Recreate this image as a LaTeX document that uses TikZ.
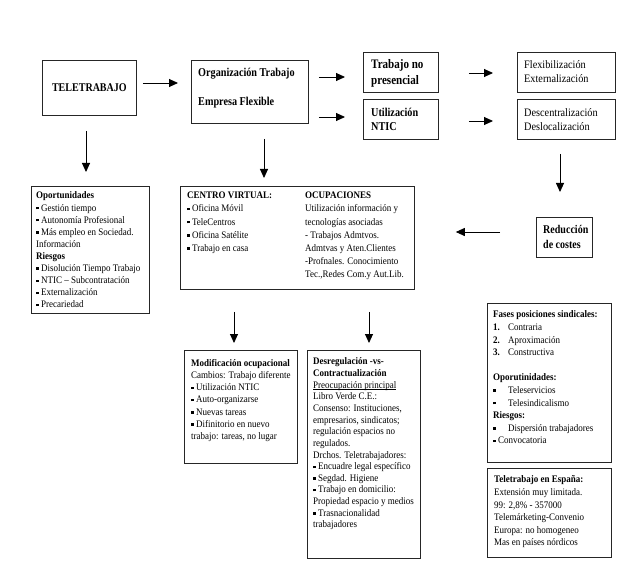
\documentclass[tikz,border=0pt]{standalone}
\usepackage{fontspec}
\setmainfont{Liberation Serif}
\newfontfamily\nf{Liberation Serif}[FakeStretch=0.9]
\newfontfamily\cf{Liberation Serif}[FakeStretch=0.85]
\usetikzlibrary{arrows.meta,calc}
\newcommand{\bul}{\raisebox{1.7pt}{\rule{2.4pt}{2.4pt}}\hspace{2.5pt}}
\newcommand{\num}[1]{\makebox[15pt][l]{\textbf{#1}}}
\newcommand{\ind}{\makebox[15pt][l]{\raisebox{1.7pt}{\rule{2.4pt}{2.4pt}}}}
\newlength\ulw
\newcommand{\ulx}[1]{\settowidth{\ulw}{#1}\rlap{\rule[-1.3pt]{\ulw}{0.5pt}}#1}
\begin{document}
\begin{tikzpicture}[x=1pt,y=-1pt,
  box/.style={draw=black!85, line width=0.8pt, inner sep=0pt, anchor=north west},
  txt/.style={anchor=north west, inner sep=0pt, align=left},
  arr/.style={line width=0.9pt, -{Triangle[length=9pt,width=8pt]}},
  bigb/.style 2 args={font=\cf\bfseries\fontsize{#1}{#2}\selectfont},
  bigr/.style 2 args={font=\nf\fontsize{#1}{#2}\selectfont},
  small/.style={font=\nf\fontsize{10}{#1}\selectfont}]
\useasboundingbox[fill=white] (0,0) rectangle (636,577);

% boxes
\node[box, minimum width=94, minimum height=55, bigb={11.8}{14}] (tele) at (42,60) {TELETRABAJO};
\node[box, minimum width=117, minimum height=63] (org) at (191,60) {};
\node[box, minimum width=75, minimum height=40] (tnp) at (363,52) {};
\node[box, minimum width=75, minimum height=40] (ntic) at (363,99) {};
\node[box, minimum width=98, minimum height=40] (flex) at (517,52) {};
\node[box, minimum width=98, minimum height=40] (desc) at (517,99) {};
\node[box, minimum width=56, minimum height=40] (red) at (536,217) {};
\node[box, minimum width=118, minimum height=127] (opo) at (31,186) {};
\node[box, minimum width=234, minimum height=103] (cv) at (180,186) {};
\node[box, minimum width=113, minimum height=113] (mod) at (184,350) {};
\node[box, minimum width=113, minimum height=208] (des) at (307,350) {};
\node[box, minimum width=124, minimum height=159] (fases) at (487,303) {};
\node[box, minimum width=124, minimum height=89] (esp) at (487,468) {};

% texts
\node[txt, bigb={12}{29}] (orgt) at (198,67.6) {Organización Trabajo\\Empresa Flexible};
\node[txt, bigb={13}{16}] (tnpt) at (371,59) {Trabajo no\\presencial};
\node[txt, bigb={12}{14}] (ntict) at (371,107.5) {Utilización\\NTIC};
\node[txt, bigr={11.4}{14}] (flext) at (524,60) {Flexibilización\\Externalización};
\node[txt, bigr={11.4}{14}] (desct) at (524,108) {Descentralización\\Deslocalización};
\node[txt, bigb={11.8}{15}] (redt) at (543,224.9) {Reducción\\de costes};

\node[txt, small=12.1] (opot) at (36,191.8) {\textbf{Oportunidades}\\
\bul Gestión tiempo\\
\bul Autonomía Profesional\\
\bul Más empleo en Sociedad.\\
Información\\
\textbf{Riesgos}\\
\bul Disolución Tiempo Trabajo\\
\bul NTIC – Subcontratación\\
\bul Externalización\\
\bul Precariedad};

\node[txt, small=13.2] (cvl) at (187,191.8) {\textbf{CENTRO VIRTUAL:}\\
\bul Oficina Móvil\\
\bul TeleCentros\\
\bul Oficina Satélite\\
\bul Trabajo en casa};

\node[txt, small=13.2] (cvr) at (305,191.8) {\textbf{OCUPACIONES}\\
Utilización información y\\
tecnologías asociadas\\
- Trabajos Admtvos.\\
Admtvas y Aten.Clientes\\
-Profnales. Conocimiento\\
Tec.,Redes Com.y Aut.Lib.};

\node[txt, small=12.3] (modt) at (191,358.8) {\textbf{Modificación ocupacional}\\
Cambios: Trabajo diferente\\
\bul Utilización NTIC\\
\bul Auto-organizarse\\
\bul Nuevas tareas\\
\bul Difinitorio en nuevo\\
trabajo: tareas, no lugar};

\node[txt, small=11.64] (dest) at (313,357.8) {\textbf{Desregulación -vs-}\\
\textbf{Contractualización}\\
\ulx{Preocupación principal}\\
Libro Verde C.E.:\\
Consenso: Instituciones,\\
empresarios, sindicatos;\\
regulación espacios no\\
regulados.\\
Drchos. Teletrabajadores:\\
\bul Encuadre legal específico\\
\bul Segdad. Higiene\\
\bul Trabajo en domicilio:\\
Propiedad espacio y medios\\
\bul Trasnacionalidad\\
trabajadores};

\node[txt, small=12.6] (fasest) at (493,310.8) {\textbf{Fases posiciones sindicales:}\\
\num{1.}Contraria\\
\num{2.}Aproximación\\
\num{3.}Constructiva\\
\mbox{}\\
\textbf{Oporutinidades:}\\
\ind Teleservicios\\
\ind Telesindicalismo\\
\textbf{Riesgos:}\\
\ind Dispersión trabajadores\\
\bul Convocatoria};

\node[txt, small=12.6] (espt) at (494,475.8) {\textbf{Teletrabajo en España:}\\
Extensión muy limitada.\\
99: 2,8\% - 357000\\
Telemárketing-Convenio\\
Europa: no homogeneo\\
Mas en países nórdicos};

% arrows
\draw[arr, shorten <=6pt, shorten >=13pt] (tele.east |- 0,83) -- (org.west |- 0,83);
\draw[arr, shorten <=10pt, shorten >=18pt] (org.east |- 0,77) -- (tnp.west |- 0,77);
\draw[arr, shorten <=10pt, shorten >=18pt] (org.east |- 0,117) -- (ntic.west |- 0,117);
\draw[arr, shorten <=30pt, shorten >=24pt] (tnp.east |- 0,73) -- (flex.west |- 0,73);
\draw[arr, shorten <=30pt, shorten >=24pt] (ntic.east |- 0,121) -- (desc.west |- 0,121);
\draw[arr, shorten <=14pt, shorten >=25pt] (desc.south -| 560,0) -- (red.north -| 560,0);
\draw[arr, shorten <=36pt, shorten >=41pt] (red.west |- 0,232) -- (cv.east |- 0,232);
\draw[arr, shorten <=15pt, shorten >=14pt] (tele.south -| 86,0) -- (opo.north -| 86,0);
\draw[arr, shorten <=15pt, shorten >=8pt] (org.south -| 264,0) -- (cv.north -| 264,0);
\draw[arr, shorten <=22pt, shorten >=7pt] (cv.south -| 234,0) -- (mod.north -| 234,0);
\draw[arr, shorten <=22pt, shorten >=7pt] (cv.south -| 369,0) -- (des.north -| 369,0);
\end{tikzpicture}
\end{document}
